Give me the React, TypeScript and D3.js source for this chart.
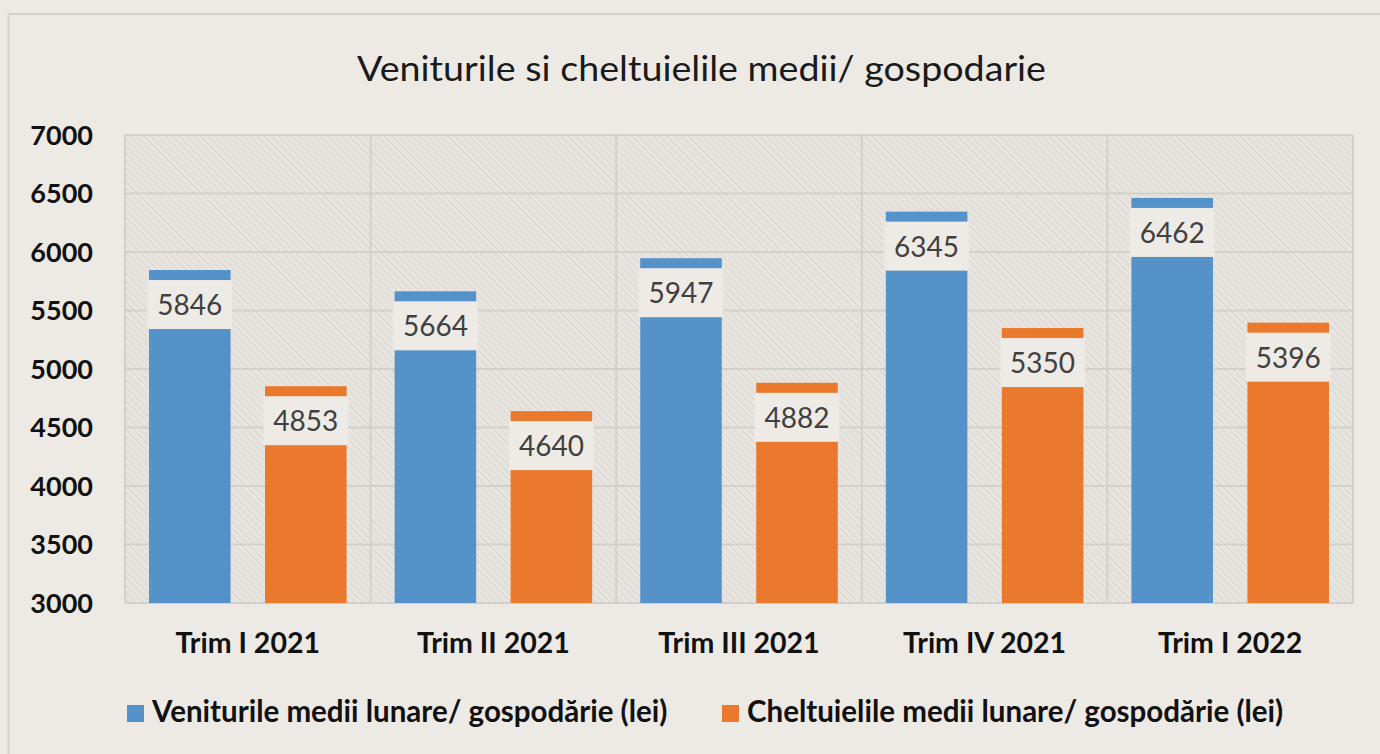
import React from "react";
import * as d3 from "d3";

const categories = ["Trim I 2021", "Trim II 2021", "Trim III 2021", "Trim IV 2021", "Trim I 2022"];
const venituri = [5846, 5664, 5947, 6345, 6462];
const cheltuieli = [4853, 4640, 4882, 5350, 5396];
const seriesNames = [
  "Veniturile medii lunare/ gospodărie (lei)",
  "Cheltuielile medii lunare/ gospodărie (lei)",
];
const yTicks = [3000, 3500, 4000, 4500, 5000, 5500, 6000, 6500, 7000];
const title = "Veniturile si cheltuielile medii/ gospodarie";

const W = 1380;
const H = 754;
const colors = ["#5592CA", "#EA792D"];
const font = "Lato, 'Open Sans', sans-serif";

export default function App() {
  const left = 125;
  const right = 1353;
  const top = 135;
  const bottom = 603;

  const x = d3.scaleBand<string>().domain(categories).range([left, right]).padding(0);
  const inner = d3
    .scaleBand<number>()
    .domain([0, 1])
    .range([0, x.bandwidth()])
    .paddingInner(0.297)
    .paddingOuter(0.207);
  const y = d3.scaleLinear().domain([3000, 7000]).range([bottom, top]);

  const series = [venituri, cheltuieli];

  return (
    <svg
      width={W}
      height={H}
      style={{ position: "absolute", left: 0, top: 0, display: "block" }}
    >
      <defs>
        <pattern id="hatch" width="5" height="5" patternUnits="userSpaceOnUse" patternTransform="rotate(-45)">
          <rect width="5" height="5" fill="#E8E4DF" />
          <line x1="0" y1="0" x2="0" y2="5" stroke="#D5D1CC" strokeWidth="1.4" />
        </pattern>
      </defs>
      <rect x={0} y={0} width={W} height={H} fill="#EDE9E4" />
      <rect x={8.5} y={14} width={W + 40} height={H + 40} fill="#EDE9E4" stroke="#D3CFCA" strokeWidth={2} />

      <text
        x={701.5}
        y={81}
        textAnchor="middle"
        fontFamily={font}
        fontSize={35}
        textLength={689}
        lengthAdjust="spacingAndGlyphs"
        fill="#1a1a1a"
      >
        {title}
      </text>

      {/* plot area */}
      <rect x={left} y={top} width={right - left} height={bottom - top} fill="url(#hatch)" />

      {yTicks.map((t) => (
        <line key={"g" + t} x1={left} x2={right} y1={y(t)} y2={y(t)} stroke="#D3CFCA" strokeWidth={2} />
      ))}
      {categories.map((c) => (
        <line key={"v" + c} x1={x(c)!} x2={x(c)!} y1={top} y2={bottom} stroke="#D3CFCA" strokeWidth={2} />
      ))}
      <line x1={right} x2={right} y1={top} y2={bottom} stroke="#D3CFCA" strokeWidth={2} />

      {yTicks.map((t) => (
        <text
          key={"t" + t}
          x={93}
          y={y(t) + 9.5}
          textAnchor="end"
          fontFamily={font}
          fontWeight="bold"
          fontSize={27}
          fill="#111"
        >
          {t}
        </text>
      ))}

      {categories.map((c, i) => (
        <g key={c}>
          {series.map((vals, s) => {
            const bx = x(c)! + inner(s)!;
            const bw = inner.bandwidth();
            const by = y(vals[i]);
            return (
              <g key={s}>
                <rect x={bx} y={by} width={bw} height={bottom - by} fill={colors[s]} />
                <rect x={bx - 1.5} y={by + 10} width={bw + 3} height={49} fill="#EEEAE5" />
                <text
                  x={bx + bw / 2}
                  y={by + 45}
                  textAnchor="middle"
                  fontFamily={font}
                  fontSize={28}
                  fill="#404040"
                >
                  {vals[i]}
                </text>
              </g>
            );
          })}
          <text
            x={x(c)! + x.bandwidth() / 2}
            y={653}
            textAnchor="middle"
            fontFamily={font}
            fontWeight="bold"
            fontSize={28.5}
            fill="#111"
          >
            {c}
          </text>
        </g>
      ))}

      {/* legend */}
      {seriesNames.map((n, s) => {
        const lx = s === 0 ? 127 : 722;
        return (
          <g key={n}>
            <rect x={lx} y={705} width={17} height={17} fill={colors[s]} />
            <text x={lx + 25} y={722} fontFamily={font} fontWeight="bold" fontSize={29.5} fill="#111">
              {n}
            </text>
          </g>
        );
      })}
    </svg>
  );
}
